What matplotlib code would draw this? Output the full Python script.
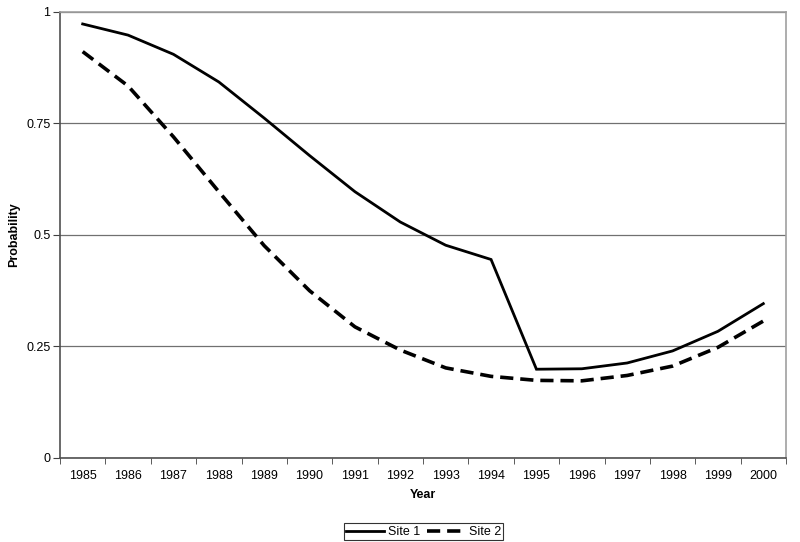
import numpy as np
import matplotlib.pyplot as plt

plt.rcParams['font.family'] = ['Liberation Sans', 'DejaVu Sans']
plt.rcParams['lines.scale_dashes'] = False

years = ['1985', '1986', '1987', '1988', '1989', '1990', '1991', '1992',
         '1993', '1994', '1995', '1996', '1997', '1998', '1999', '2000']
site1 = [0.973, 0.948, 0.905, 0.843, 0.762, 0.678, 0.597, 0.529,
         0.477, 0.445, 0.199, 0.200, 0.213, 0.240, 0.284, 0.346]
site2 = [0.911, 0.834, 0.720, 0.597, 0.476, 0.375, 0.294, 0.242,
         0.202, 0.183, 0.174, 0.173, 0.185, 0.206, 0.248, 0.307]
yticks = [0, 0.25, 0.5, 0.75, 1]
ylabels = ['0', '0.25', '0.5', '0.75', '1']

fig = plt.figure(figsize=(8, 5.42), dpi=100)
ax = fig.add_axes([0.075, 0.155, 0.9075, 0.823])

x = np.arange(len(years))
ax.plot(x, site1, color='black', lw=2.0, solid_joinstyle='miter', label='Site 1')
ax.plot(x, site2, color='black', lw=2.6, dashes=(9.5, 5), label='Site 2')

ax.set_xlim(-0.5, len(years) - 0.5)
ax.set_ylim(0, 1)
ax.set_yticks(yticks)
ax.set_yticklabels(ylabels)
ax.set_xticks(x)
ax.set_xticklabels(years)
ax.set_xticks(np.arange(-0.5, len(years)), minor=True)
ax.tick_params(axis='x', which='major', length=0, pad=9, labelsize=9)
ax.tick_params(axis='x', which='minor', length=4, direction='out', color='#404040')
ax.tick_params(axis='y', length=5, direction='out', color='#404040', labelsize=9, pad=2)

ax.grid(axis='y', color='#707070', lw=0.9)
ax.set_axisbelow(True)
for s in ['top', 'right']:
    ax.spines[s].set_color('#a0a0a0')
    ax.spines[s].set_linewidth(1.2)
for s in ['left', 'bottom']:
    ax.spines[s].set_color('#505050')
    ax.spines[s].set_linewidth(1.2)

ax.set_xlabel('Year', fontsize=9, fontweight='bold', labelpad=5)
ax.set_ylabel('Probability', fontsize=9, fontweight='bold', labelpad=4)

leg = fig.legend(loc='center', bbox_to_anchor=(0.5294, 0.0185), ncol=2, fontsize=9,
                 frameon=True, fancybox=False, edgecolor='black', handlelength=3.0,
                 handletextpad=0.3, columnspacing=0.6, borderpad=0.2, borderaxespad=0)
leg.get_frame().set_linewidth(0.8)

fig.savefig('out.png', dpi=100)
